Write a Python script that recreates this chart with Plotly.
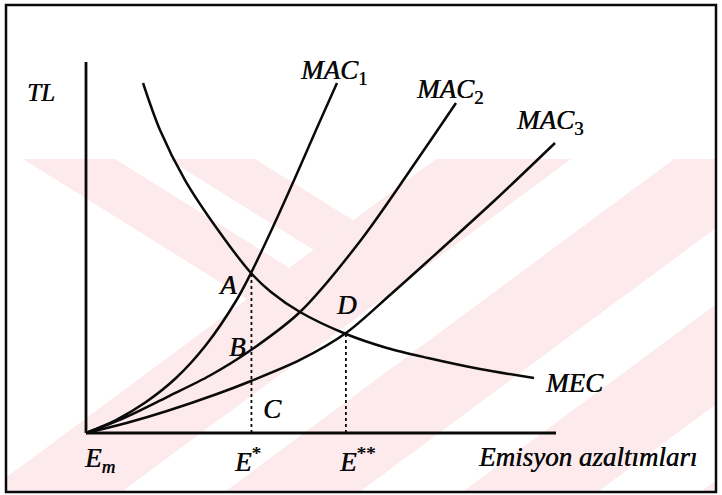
import plotly.graph_objects as go

# ---- data (abstract units) ----
mac1_x = [0.000, 0.638, 1.277, 1.915, 2.553, 3.191, 3.511, 3.957, 4.447, 4.894, 5.340]
mac1_y = [0.000, 0.350, 0.836, 1.482, 2.372, 3.558, 4.313, 5.499, 6.873, 8.167, 9.434]
mac2_x = [0.000, 0.851, 1.723, 2.638, 3.511, 4.553, 5.851, 7.191, 7.872]
mac2_y = [0.000, 0.431, 0.970, 1.550, 2.237, 3.261, 5.202, 7.628, 8.895]
mac3_x = [0.000, 0.936, 1.723, 2.787, 3.511, 4.553, 5.532, 6.468, 7.277, 8.681, 9.979]
mac3_y = [0.000, 0.296, 0.593, 1.051, 1.402, 1.968, 2.695, 3.720, 4.636, 6.253, 7.817]
mec_x = [1.213, 1.574, 2.106, 2.809, 3.511, 3.936, 4.553, 5.532, 6.404, 7.277, 8.383, 9.532]
mec_y = [9.434, 8.167, 6.819, 5.472, 4.313, 3.801, 3.261, 2.668, 2.291, 2.022, 1.725, 1.482]
axis_x_end = 10.0
axis_y_end = 10.0
e_star = 3.52
e_star_y = 4.31
e_2star = 5.53
e_2star_y = 2.68

INK = "#0a0a0a"
FONT = "Liberation Serif, Times New Roman, serif"
W, H = 722, 495

fig = go.Figure()

# axes
fig.add_trace(go.Scatter(x=[0, 0], y=[0, axis_y_end], mode="lines",
                         line=dict(color=INK, width=2.8), hoverinfo="skip"))
fig.add_trace(go.Scatter(x=[0, axis_x_end], y=[0, 0], mode="lines",
                         line=dict(color=INK, width=2.8), hoverinfo="skip"))
# dotted guides
fig.add_trace(go.Scatter(x=[e_star, e_star], y=[0, e_star_y], mode="lines",
                         line=dict(color=INK, width=1.8, dash="dot")))
fig.add_trace(go.Scatter(x=[e_2star, e_2star], y=[0, e_2star_y], mode="lines",
                         line=dict(color=INK, width=1.8, dash="dot")))
# curves
for xs, ys in [(mac1_x, mac1_y), (mac2_x, mac2_y), (mac3_x, mac3_y), (mec_x, mec_y)]:
    fig.add_trace(go.Scatter(x=xs, y=ys, mode="lines",
                             line=dict(color=INK, width=2.5, shape="spline", smoothing=0.9)))

# labels: (text, x, y, xanchor, size)
labels = [
    ("<i>TL</i>", -0.957, 9.19, "center", 25),
    ("<i>MAC</i><sub>1</sub>", 4.51, 9.74, "left", 27),
    ("<i>MAC</i><sub>2</sub>", 6.98, 9.22, "left", 27),
    ("<i>MAC</i><sub>3</sub>", 9.11, 8.38, "left", 27),
    ("<i>MEC</i>", 10.40, 1.35, "center", 27),
    ("<i>A</i>", 3.02, 3.99, "center", 27),
    ("<i>B</i>", 3.23, 2.32, "center", 27),
    ("<i>C</i>", 3.96, 0.65, "center", 27),
    ("<i>D</i>", 5.55, 3.45, "center", 27),
    ("<i>E<sub>m</sub></i>", -0.085, -0.73, "left", 27),
    ("<i>E</i><sup>*</sup>", 3.11, -0.73, "left", 27),
    ("<i>E</i><sup>**</sup>", 5.34, -0.73, "left", 27),
    ("<i>Emisyon azaltımları</i>", 8.30, -0.65, "left", 27),
]
for t, lx, ly, xa, fs in labels:
    fig.add_annotation(text=t, x=lx, y=ly, xref="x", yref="y", showarrow=False,
                       xanchor=xa, yanchor="middle",
                       font=dict(family=FONT, size=fs, color=INK,
                                 shadow="0.6px 0 0 #0a0a0a"))

# ---- watermark (decoration, pixel geometry) ----
PINK = "rgb(252,234,237)"
WM_TOP, WM_BOT = 159, 492
k_left, k_right = 1.6, 1.35
left_stripes = [(23, 115), (168, 255)]
right_stripes = [(436, 571), (674, 809), (912, 1047), (1150, 1285)]
hyp_x = right_stripes[0][0]  # left edge of first rising stripe bounds the falling ones


def P(px, py):
    return f"{px / W:.5f},{1 - py / H:.5f}"


shapes = []
dy = WM_BOT - WM_TOP
for a, b in right_stripes:
    s = k_right * dy
    path = f"M{P(a, WM_TOP)} L{P(b, WM_TOP)} L{P(b - s, WM_BOT)} L{P(a - s, WM_BOT)} Z"
    shapes.append(dict(type="path", path=path, xref="paper", yref="paper",
                       fillcolor=PINK, line=dict(width=0), layer="below"))
for a, b in left_stripes:
    da = (hyp_x - a) / (k_left + k_right)
    db = (hyp_x - b) / (k_left + k_right)
    pts = [(a, WM_TOP), (b, WM_TOP), (b + k_left * db, WM_TOP + db), (a + k_left * da, WM_TOP + da)]
    path = "M" + " L".join(P(*p) for p in pts) + " Z"
    shapes.append(dict(type="path", path=path, xref="paper", yref="paper",
                       fillcolor=PINK, line=dict(width=0), layer="below"))
# white margins outside frame
for x0, y0, x1, y1 in [(0, 0, 7, H), (716, 0, W, H), (0, 492, W, H), (0, 0, W, 5)]:
    shapes.append(dict(type="rect", xref="paper", yref="paper",
                       x0=x0 / W, x1=x1 / W, y0=1 - y1 / H, y1=1 - y0 / H,
                       fillcolor="white", line=dict(width=0), layer="below"))
# frame
shapes.append(dict(type="rect", xref="paper", yref="paper",
                   x0=6 / W, x1=716 / W, y0=1 - 492 / H, y1=1 - 5 / H,
                   line=dict(color=INK, width=2.5), fillcolor="rgba(0,0,0,0)", layer="above"))

X0, XS = 86, 47.0
Y0, YS = 433, 37.1
fig.update_layout(
    width=W, height=H, margin=dict(l=0, r=0, t=0, b=0),
    paper_bgcolor="white", plot_bgcolor="rgba(0,0,0,0)",
    showlegend=False, shapes=shapes,
    xaxis=dict(range=[-X0 / XS, (W - X0) / XS], visible=False, fixedrange=True),
    yaxis=dict(range=[-(H - Y0) / YS, Y0 / YS], visible=False, fixedrange=True),
)
fig.write_html("out.html", config={"displayModeBar": False},
               post_script="document.body.style.margin='0';document.body.style.overflow='hidden';")
